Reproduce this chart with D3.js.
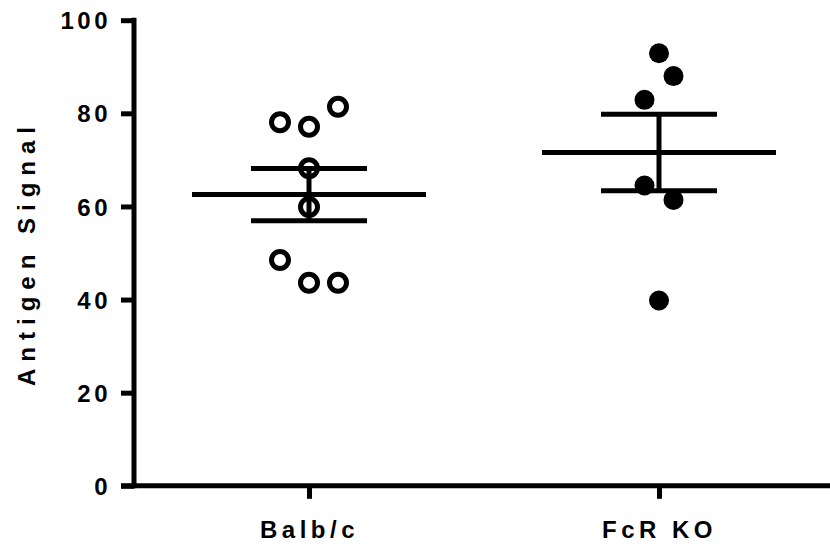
<!DOCTYPE html>
<html>
<head>
<meta charset="utf-8">
<script src="https://cdn.jsdelivr.net/npm/d3@7"></script>
<style>
  body { margin: 0; background: #fff; }
  svg text { font-family: "Liberation Sans", Arial, sans-serif; font-weight: bold; fill: #000; }
</style>
</head>
<body>
<div id="chart"></div>
<script>
// groups along the x axis
var groups = ["Balb/c", "FcR KO"];

// antigen signal per animal
var balbValues = [68.2, 59.9, 77.1, 78.1, 81.4, 43.6, 48.5, 43.6];
var fcrValues  = [92.9, 88.0, 82.9, 64.5, 61.4, 39.8];

// scatter lane of each point inside its column (as GraphPad spread them)
var balbLane = [0, 0, 0, -1, 1, 0, -1, 1];
var fcrLane  = [0, 0.5, -0.5, -0.5, 0.5, 0];

var yTicks = [0, 20, 40, 60, 80, 100];

var W = 830, H = 548;
var plotLeft = 134, plotTop = 20.2, plotBottom = 485.8;

var svg = d3.select("#chart").append("svg")
    .attr("width", W)
    .attr("height", H);

var x = d3.scalePoint()
    .domain(groups)
    .range([plotLeft, plotLeft + 700])
    .padding(0.5);

var y = d3.scaleLinear()
    .domain([0, 100])
    .range([plotBottom, plotTop]);

// lane -> pixel offset
var lane = d3.scaleLinear().domain([-1, 1]).range([-29, 29]);

// axes
var yAxis = d3.axisLeft(y).tickValues(yTicks).tickSize(13).tickSizeOuter(0).tickPadding(10);
var xAxis = d3.axisBottom(x).tickSize(13).tickSizeOuter(0).tickPadding(0);

var gy = svg.append("g")
    .attr("transform", "translate(" + plotLeft + ",0)")
    .call(yAxis);
gy.select(".domain").attr("d", "M0," + (plotTop - 2.5) + "V" + (plotBottom + 2.5));

var gx = svg.append("g")
    .attr("transform", "translate(0," + plotBottom + ")")
    .call(xAxis);
gx.select(".domain").attr("d", "M" + (plotLeft - 13) + ",0H" + W);

svg.selectAll(".domain, .tick line")
    .attr("stroke", "#000")
    .attr("stroke-width", 5);

gy.selectAll(".tick text")
    .attr("font-size", "24px")
    .attr("letter-spacing", "3.5px")
    .attr("dy", "0.36em");

gx.selectAll(".tick text")
    .attr("font-size", "24px")
    .attr("letter-spacing", "4.5px")
    .attr("dy", "0")
    .attr("y", 52);

// y title
svg.append("text")
    .attr("transform", "translate(35," + ((plotTop + plotBottom) / 2) + ") rotate(-90)")
    .attr("text-anchor", "middle")
    .attr("font-size", "24px")
    .attr("letter-spacing", "7px")
    .text("Antigen Signal");

// summary: mean and SEM from the values
var sets = [
  { name: groups[0], values: balbValues, lanes: balbLane, open: true },
  { name: groups[1], values: fcrValues,  lanes: fcrLane,  open: false }
];
sets.forEach(function(s) {
  s.mean = d3.mean(s.values);
  s.sem = d3.deviation(s.values) / Math.sqrt(s.values.length);
});

var stats = svg.append("g").attr("stroke", "#000").attr("stroke-width", 5);

// mean line
stats.selectAll(".mean")
    .data(sets).enter().append("line")
    .attr("class", "mean")
    .attr("x1", d => x(d.name) - 117)
    .attr("x2", d => x(d.name) + 117)
    .attr("y1", d => y(d.mean))
    .attr("y2", d => y(d.mean));

// SEM stem
stats.selectAll(".stem")
    .data(sets).enter().append("line")
    .attr("class", "stem")
    .attr("x1", d => x(d.name))
    .attr("x2", d => x(d.name))
    .attr("y1", d => y(d.mean + d.sem))
    .attr("y2", d => y(d.mean - d.sem));

// SEM caps
[1, -1].forEach(function(sign) {
  stats.selectAll(".cap" + sign)
      .data(sets).enter().append("line")
      .attr("x1", d => x(d.name) - 58)
      .attr("x2", d => x(d.name) + 58)
      .attr("y1", d => y(d.mean + sign * d.sem))
      .attr("y2", d => y(d.mean + sign * d.sem));
});

// points
sets.forEach(function(s) {
  svg.append("g").selectAll("circle")
      .data(s.values).enter().append("circle")
      .attr("cx", (d, i) => x(s.name) + lane(s.lanes[i]))
      .attr("cy", d => y(d))
      .attr("r", s.open ? 8.5 : 10)
      .attr("fill", s.open ? "none" : "#000")
      .attr("stroke", s.open ? "#000" : "none")
      .attr("stroke-width", s.open ? 5 : 0);
});
</script>
</body>
</html>
